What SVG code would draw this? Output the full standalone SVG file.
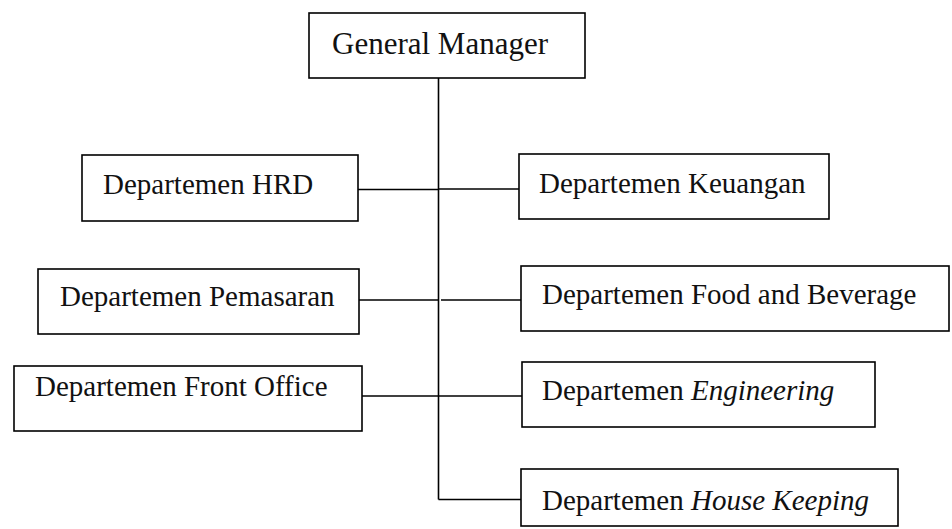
<svg xmlns="http://www.w3.org/2000/svg" width="952" height="529" viewBox="0 0 952 529">
  <style>
    .box { fill: #ffffff; stroke: #000000; stroke-width: 1.6; }
    .line { fill: none; stroke: #000000; stroke-width: 1.6; }
    .label { font-size: 29px; fill: #111111; }
    .title { font-size: 31px; }
    .it { font-style: italic; }
  </style>
  <rect width="952" height="529" fill="#ffffff"/>

  <!-- connectors -->
  <g id="connectors">
    <line class="line" x1="438.5" y1="78" x2="438.5" y2="499.5"/>
    <line class="line" x1="358" y1="189.5" x2="438.5" y2="189.5"/>
    <line class="line" x1="438.5" y1="189" x2="519" y2="189"/>
    <line class="line" x1="359" y1="300" x2="438.5" y2="300"/>
    <line class="line" x1="441" y1="300" x2="521" y2="300"/>
    <line class="line" x1="362" y1="396" x2="522" y2="396"/>
    <line class="line" x1="438.5" y1="499.5" x2="521" y2="499.5"/>
  </g>

  <g font-family="'Liberation Serif', 'Times New Roman', Tinos, 'DejaVu Serif', serif">
    <g id="general-manager">
      <rect class="box" x="309" y="13" width="276" height="65"/>
      <text class="label title" x="332" y="54">General Manager</text>
    </g>

    <g id="dept-hrd">
      <rect class="box" x="82" y="155" width="276" height="66"/>
      <text class="label" x="103" y="194">Departemen HRD</text>
    </g>

    <g id="dept-keuangan">
      <rect class="box" x="519" y="154" width="310" height="65"/>
      <text class="label" x="539" y="193">Departemen Keuangan</text>
    </g>

    <g id="dept-pemasaran">
      <rect class="box" x="38" y="269" width="321" height="65"/>
      <text class="label" x="60" y="306">Departemen Pemasaran</text>
    </g>

    <g id="dept-food-beverage">
      <rect class="box" x="521" y="266" width="428" height="65"/>
      <text class="label" x="542" y="303.5">Departemen Food and Beverage</text>
    </g>

    <g id="dept-front-office">
      <rect class="box" x="14" y="366" width="348" height="65"/>
      <text class="label" x="35" y="395.5">Departemen Front Office</text>
    </g>

    <g id="dept-engineering">
      <rect class="box" x="522" y="362" width="353" height="65"/>
      <text class="label" x="542" y="400">Departemen <tspan class="it">Engineering</tspan></text>
    </g>

    <g id="dept-house-keeping">
      <rect class="box" x="521" y="469" width="377" height="57"/>
      <text class="label" x="542" y="510">Departemen <tspan class="it">House Keeping</tspan></text>
    </g>
  </g>
</svg>
